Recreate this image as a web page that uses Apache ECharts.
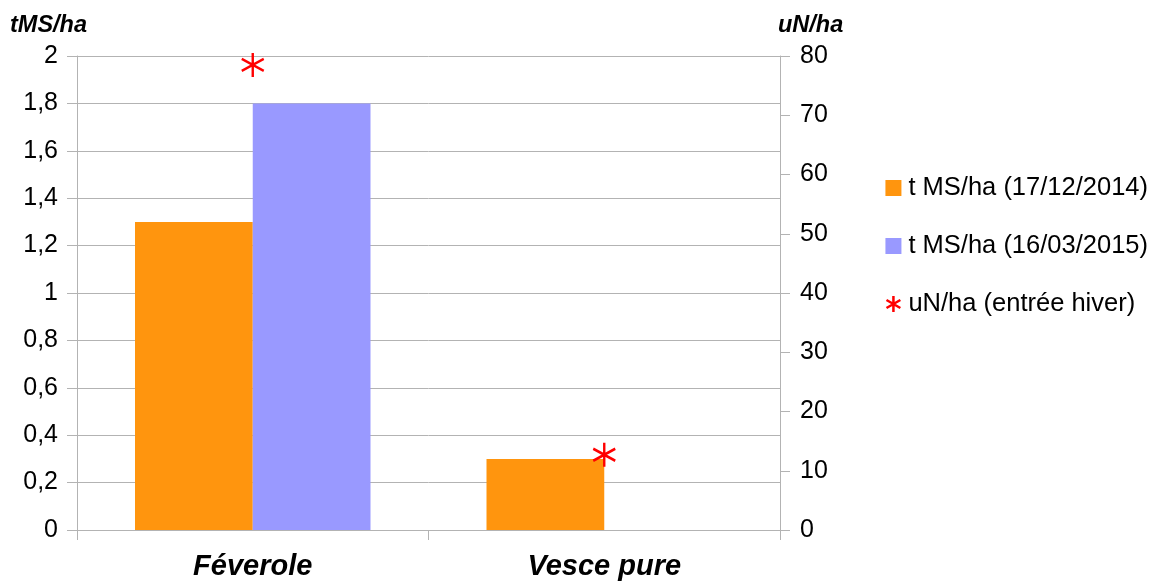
<!DOCTYPE html>
<html>
<head>
<meta charset="utf-8">
<script src="https://cdn.jsdelivr.net/npm/echarts@6/dist/echarts.min.js"></script>
<style>
html,body{margin:0;padding:0;background:#fff;}
#chart{width:1153px;height:581px;}
</style>
</head>
<body>
<div id="chart"></div>
<script>
const categories = ['Féverole', 'Vesce pure'];
const seriesNames = ['t MS/ha (17/12/2014)', 't MS/ha (16/03/2015)', 'uN/ha (entrée hiver)'];
const msDec2014 = [1.3, 0.3];
const msMar2015 = [1.8, null];
const uNWinter = [78.5, 12.7];
const leftTicks = { min: 0, max: 2, interval: 0.2 };
const rightTicks = { min: 0, max: 80, interval: 10 };

const FONT = '"Liberation Sans", Arial, sans-serif';
const GRAY = '#b3b3b3';
const chart = echarts.init(document.getElementById('chart'), null, { renderer: 'canvas' });
const starPath = 'path://M0,0L0,20M-8.66,5L8.66,15M-8.66,15L8.66,5';

chart.setOption({
  animation: false,
  textStyle: { fontFamily: FONT },
  grid: { left: 77, right: 373, top: 56, bottom: 50, containLabel: false },
  legend: {
    orient: 'vertical',
    left: 879,
    top: 170,
    itemGap: 32,
    itemWidth: 16,
    itemHeight: 16,
    textStyle: { fontFamily: FONT, fontSize: 25.5, color: '#000', padding: [0, 0, 0, 2] },
    data: [
      { name: seriesNames[0], icon: 'rect' },
      { name: seriesNames[1], icon: 'rect' },
      { name: seriesNames[2], icon: starPath, itemStyle: { color: 'none', borderColor: '#ff0000', borderWidth: 2.5 } }
    ]
  },
  xAxis: {
    type: 'category',
    data: categories,
    boundaryGap: true,
    axisLine: { show: true, lineStyle: { color: GRAY } },
    axisTick: { show: true, length: 10, lineStyle: { color: GRAY } },
    axisLabel: { fontFamily: FONT, fontSize: 29, fontWeight: 'bold', fontStyle: 'italic', color: '#000', margin: 22 }
  },
  yAxis: [
    {
      type: 'value',
      min: leftTicks.min, max: leftTicks.max, interval: leftTicks.interval,
      axisLine: { show: true, lineStyle: { color: GRAY } },
      axisTick: { show: true, length: 10, lineStyle: { color: GRAY } },
      splitLine: { show: true, lineStyle: { color: GRAY } },
      axisLabel: {
        fontFamily: FONT, fontSize: 25, color: '#000', margin: 19,
        formatter: v => String(Math.round(v * 10) / 10).replace('.', ',')
      }
    },
    {
      type: 'value',
      position: 'right',
      min: rightTicks.min, max: rightTicks.max, interval: rightTicks.interval,
      axisLine: { show: true, lineStyle: { color: GRAY } },
      axisTick: { show: true, length: 10, lineStyle: { color: GRAY } },
      splitLine: { show: false },
      axisLabel: { fontFamily: FONT, fontSize: 25, color: '#000', margin: 20 }
    }
  ],
  graphic: [
    { type: 'text', left: 10, top: 14, style: { text: 'tMS/ha', font: 'italic bold 23.5px "Liberation Sans", Arial, sans-serif', fill: '#000' } },
    { type: 'text', left: 778, top: 14, style: { text: 'uN/ha', font: 'italic bold 23.5px "Liberation Sans", Arial, sans-serif', fill: '#000' } }
  ],
  series: [
    {
      name: seriesNames[0], type: 'bar', yAxisIndex: 0, data: msDec2014,
      itemStyle: { color: '#ff950e' }, barGap: '0%', barCategoryGap: '33%'
    },
    {
      name: seriesNames[1], type: 'bar', yAxisIndex: 0, data: msMar2015,
      itemStyle: { color: '#9999ff' }, barGap: '0%', barCategoryGap: '33%'
    },
    {
      name: seriesNames[2], type: 'line', yAxisIndex: 1, data: uNWinter,
      lineStyle: { width: 0, opacity: 0 },
      symbol: starPath, symbolSize: [22, 24],
      itemStyle: { color: 'none', borderColor: '#ff0000', borderWidth: 2.5 },
      z: 5
    }
  ]
});
</script>
</body>
</html>
